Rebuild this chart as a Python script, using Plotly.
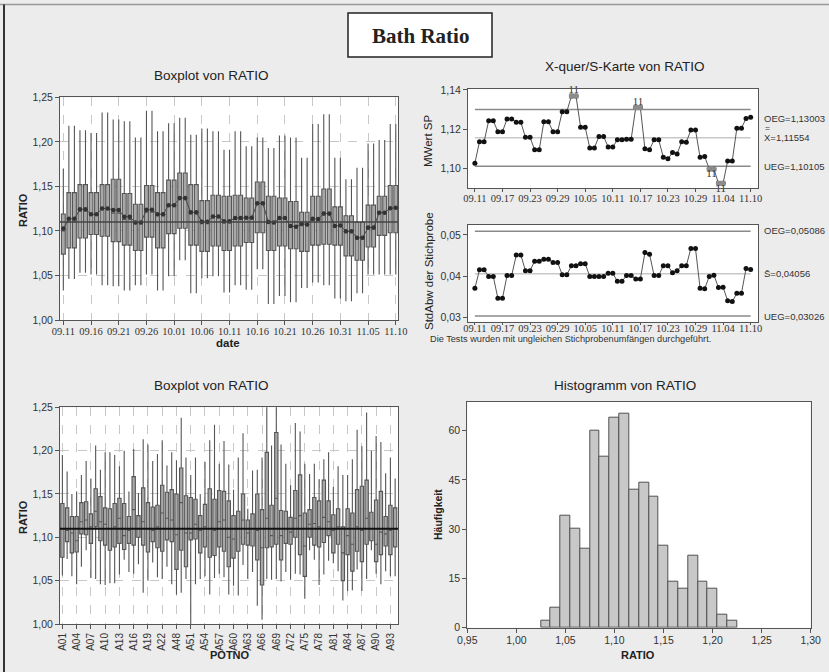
import plotly.graph_objects as go
import pandas as pd

W, H = 829, 672
def px(x): return x / W
def py(y): return 1 - y / H

# ---------------- data ----------------
dates = list(pd.date_range("2010-09-11", "2010-11-10").strftime("%m.%d"))   # 61 days
day_batch = [0] + [k for k in range(1, 31) for _ in range(2)]                # batch drawn on each day

# boxplot by date (31 batches)
tl_lo = [1.033,1.046,1.053,1.051,1.039,1.038,1.033,1.039,1.051,1.033,1.049,1.067,1.030,1.047,1.049,1.031,
         1.039,1.034,1.057,1.018,1.027,1.020,1.036,1.042,1.039,1.024,1.021,1.030,1.051,1.051,1.051]
tl_q1 = [1.074,1.081,1.092,1.096,1.094,1.088,1.084,1.078,1.093,1.081,1.097,1.103,1.084,1.077,1.083,1.078,
         1.083,1.087,1.098,1.078,1.083,1.080,1.077,1.084,1.085,1.084,1.072,1.067,1.082,1.095,1.098]
tl_med = [1.100,1.110,1.122,1.118,1.124,1.120,1.113,1.108,1.121,1.117,1.128,1.135,1.119,1.108,1.115,1.109,
          1.113,1.114,1.130,1.109,1.113,1.104,1.106,1.112,1.118,1.105,1.098,1.091,1.102,1.120,1.125]
tl_q3 = [1.119,1.143,1.152,1.143,1.152,1.158,1.142,1.130,1.151,1.143,1.157,1.165,1.152,1.134,1.140,1.139,
         1.140,1.137,1.155,1.139,1.137,1.133,1.121,1.139,1.147,1.127,1.117,1.110,1.129,1.139,1.151]
tl_hi = [1.170,1.218,1.213,1.210,1.233,1.225,1.223,1.205,1.235,1.212,1.221,1.227,1.208,1.215,1.212,1.191,
         1.212,1.195,1.205,1.193,1.207,1.205,1.182,1.220,1.231,1.182,1.158,1.171,1.198,1.202,1.220]
overall_ratio = 1.110

# X-bar / S chart (61 subgroups)
xbar = [1.1026,
        1.1136,1.1136, 1.1243,1.1243, 1.1187,1.1187, 1.1252,1.1252, 1.1235,1.1235, 1.1158,1.1158,
        1.1094,1.1094, 1.1237,1.1237, 1.1187,1.1187, 1.1289,1.1289, 1.1369,1.1369, 1.1209,1.1209,
        1.1104,1.1104, 1.1162,1.1162, 1.1109,1.1109, 1.1145,1.1145, 1.1148,1.1148, 1.1310,1.1310,
        1.1099,1.1095, 1.1145,1.1145, 1.1056,1.1048, 1.1080,1.1073, 1.1136,1.1133, 1.1196,1.1196,
        1.1056,1.1060, 1.0996,1.0996, 1.0923,1.0923, 1.1037,1.1037, 1.1205,1.1205, 1.1254,1.1260]
xbar_flag_hi = [(21, 22), (35, 36)]      # test-1 failures above OEG (pairs of subgroups)
xbar_flag_lo = [(51, 52), (53, 54)]      # test-1 failures below UEG
flag_label = "11"
xbar_oeg, xbar_center, xbar_ueg = 1.13003, 1.11554, 1.10105

sdev = [0.0370,
        0.0415,0.0415, 0.0399,0.0399, 0.0346,0.0346, 0.0401,0.0401, 0.0451,0.0451, 0.0413,0.0413,
        0.0436,0.0436, 0.0441,0.0441, 0.0433,0.0433, 0.0403,0.0403, 0.0425,0.0425, 0.0430,0.0430,
        0.0399,0.0399, 0.0399,0.0399, 0.0407,0.0407, 0.0387,0.0387, 0.0401,0.0401, 0.0393,0.0393,
        0.0457,0.0453, 0.0401,0.0401, 0.0425,0.0425, 0.0408,0.0413, 0.0425,0.0425, 0.0467,0.0467,
        0.0370,0.0369, 0.0399,0.0402, 0.0372,0.0373, 0.0340,0.0338, 0.0358,0.0358, 0.0418,0.0416]
s_oeg, s_center, s_ueg = 0.05086, 0.04056, 0.03026

# boxplot by POTNO (71 pots)
pots = [f"A{n:02d}" for n in list(range(1, 25)) + list(range(48, 95))]
bl_lo = [1.056,1.075,1.055,1.046,1.066,1.085,1.053,1.052,1.046,1.045,
         1.047,1.047,1.057,1.074,1.060,1.058,1.069,1.036,1.050,1.071,
         1.054,1.052,1.066,1.046,1.034,1.036,1.052,1.000,1.046,1.052,
         1.055,1.034,1.053,1.058,1.054,1.034,1.044,1.033,1.068,1.052,
         1.060,1.021,1.005,1.052,1.051,1.052,1.049,1.060,1.051,1.058,
         1.057,1.029,1.085,1.074,1.045,1.057,1.073,1.070,1.061,1.027,
         1.038,1.039,1.063,1.038,1.052,1.085,1.058,1.046,1.061,1.055,1.055]
bl_q1 = [1.077,1.095,1.082,1.083,1.104,1.103,1.093,1.112,1.096,1.091,
         1.085,1.089,1.093,1.086,1.093,1.091,1.100,1.091,1.083,1.095,
         1.088,1.084,1.097,1.095,1.063,1.085,1.066,1.097,1.098,1.082,
         1.089,1.077,1.079,1.089,1.084,1.066,1.076,1.084,1.092,1.091,
         1.090,1.074,1.045,1.088,1.089,1.092,1.074,1.093,1.092,1.100,
         1.080,1.055,1.100,1.091,1.089,1.094,1.102,1.082,1.092,1.050,
         1.080,1.061,1.084,1.072,1.092,1.096,1.072,1.080,1.090,1.080,1.089]
bl_med = [1.110,1.108,1.105,1.096,1.118,1.120,1.112,1.130,1.118,1.115,
          1.110,1.112,1.122,1.102,1.108,1.132,1.110,1.118,1.110,1.108,
          1.112,1.128,1.122,1.120,1.103,1.140,1.105,1.105,1.115,1.108,
          1.112,1.110,1.108,1.118,1.120,1.100,1.098,1.110,1.120,1.105,
          1.110,1.108,1.088,1.122,1.102,1.145,1.102,1.110,1.106,1.122,
          1.125,1.090,1.115,1.116,1.112,1.123,1.118,1.108,1.112,1.082,
          1.102,1.092,1.112,1.108,1.122,1.110,1.092,1.106,1.104,1.108,1.110]
bl_q3 = [1.139,1.134,1.124,1.124,1.140,1.141,1.127,1.156,1.147,1.134,
         1.133,1.139,1.145,1.139,1.124,1.170,1.125,1.157,1.140,1.135,
         1.137,1.160,1.152,1.155,1.150,1.180,1.148,1.146,1.144,1.125,
         1.138,1.156,1.144,1.154,1.153,1.142,1.125,1.130,1.150,1.120,
         1.127,1.150,1.132,1.198,1.137,1.221,1.131,1.130,1.123,1.154,
         1.172,1.128,1.132,1.146,1.142,1.166,1.142,1.126,1.133,1.112,
         1.133,1.128,1.155,1.159,1.166,1.129,1.143,1.153,1.124,1.137,1.134]
bl_hi = [1.195,1.176,1.150,1.153,1.172,1.188,1.168,1.206,1.178,1.198,
         1.198,1.195,1.182,1.200,1.153,1.202,1.151,1.213,1.207,1.188,
         1.196,1.212,1.183,1.198,1.189,1.238,1.192,1.172,1.192,1.150,
         1.187,1.212,1.230,1.185,1.211,1.184,1.155,1.192,1.220,1.133,
         1.177,1.178,1.192,1.270,1.206,1.270,1.207,1.185,1.160,1.232,
         1.222,1.185,1.173,1.185,1.167,1.190,1.198,1.158,1.182,1.172,
         1.172,1.190,1.224,1.205,1.244,1.200,1.217,1.210,1.174,1.192,1.168]

# histogram
hist_centers = [1.03,1.04,1.05,1.06,1.07,1.08,1.09,1.10,1.11,1.12,1.13,1.14,1.15,1.16,1.17,1.18,1.19,1.20,1.21,1.22]
hist_counts  = [2, 6, 34, 30, 24, 60, 52, 64, 65, 42, 44, 40, 25, 14, 12, 22, 14, 12, 4, 2]
hist_bin_width = 0.01

# ---------------- figure ----------------
fig = go.Figure()
days = list(range(len(dates)))
BOXFILL, BOXLINE = "#a8a8a8", "#555555"

fig.add_trace(go.Box(
    x=days, q1=[tl_q1[b] for b in day_batch], median=[tl_med[b] for b in day_batch],
    q3=[tl_q3[b] for b in day_batch], lowerfence=[tl_lo[b] for b in day_batch],
    upperfence=[tl_hi[b] for b in day_batch], width=0.7, whiskerwidth=0,
    fillcolor=BOXFILL, line=dict(color=BOXLINE, width=1.1), boxpoints=False,
    showlegend=False, hoverinfo="skip", xaxis="x", yaxis="y"))
fig.add_trace(go.Scatter(x=days, y=xbar, mode="lines+markers",
    line=dict(color="#4a4a4a", width=1), marker=dict(size=4.5, color="#333333"),
    showlegend=False, hoverinfo="skip", xaxis="x", yaxis="y"))

# X-bar chart
for val, col in [(xbar_oeg, "#8a8a8a"), (xbar_center, "#c8c8c8"), (xbar_ueg, "#8a8a8a")]:
    fig.add_trace(go.Scatter(x=[days[0], days[-1]], y=[val, val], mode="lines",
        line=dict(color=col, width=1.5), showlegend=False, hoverinfo="skip", xaxis="x2", yaxis="y2"))
fig.add_trace(go.Scatter(x=days, y=xbar, mode="lines+markers",
    line=dict(color="#555555", width=1), marker=dict(size=5, color="#111111"),
    showlegend=False, hoverinfo="skip", xaxis="x2", yaxis="y2"))
flag_idx = [i for pair in xbar_flag_hi + xbar_flag_lo for i in pair]
fig.add_trace(go.Scatter(x=flag_idx, y=[xbar[i] for i in flag_idx], mode="markers",
    marker=dict(size=5, color="#8c8c8c", symbol="square"),
    showlegend=False, hoverinfo="skip", xaxis="x2", yaxis="y2"))
for pairs, pos, pick in [(xbar_flag_hi, "top center", max), (xbar_flag_lo, "bottom center", min)]:
    fig.add_trace(go.Scatter(
        x=[(a + b) / 2 for a, b in pairs], y=[pick(xbar[a], xbar[b]) for a, b in pairs],
        mode="text", text=[flag_label] * len(pairs), textposition=pos, cliponaxis=False,
        textfont=dict(family="Liberation Serif", size=11, color="#333"),
        showlegend=False, hoverinfo="skip", xaxis="x2", yaxis="y2"))

# S chart
for val, col in [(s_oeg, "#8a8a8a"), (s_center, "#c8c8c8"), (s_ueg, "#8a8a8a")]:
    fig.add_trace(go.Scatter(x=[days[0], days[-1]], y=[val, val], mode="lines",
        line=dict(color=col, width=1.5), showlegend=False, hoverinfo="skip", xaxis="x3", yaxis="y3"))
fig.add_trace(go.Scatter(x=days, y=sdev, mode="lines+markers",
    line=dict(color="#555555", width=1), marker=dict(size=5, color="#111111"),
    showlegend=False, hoverinfo="skip", xaxis="x3", yaxis="y3"))

# boxplot by POTNO
pidx = list(range(len(pots)))
fig.add_trace(go.Box(
    x=pidx, q1=bl_q1, median=bl_med, q3=bl_q3, lowerfence=bl_lo, upperfence=bl_hi,
    width=0.7, whiskerwidth=0, fillcolor=BOXFILL, line=dict(color=BOXLINE, width=1.1),
    boxpoints=False, showlegend=False, hoverinfo="skip", xaxis="x4", yaxis="y4"))

# histogram
fig.add_trace(go.Bar(x=hist_centers, y=hist_counts, width=hist_bin_width,
    marker=dict(color="#c8c8c8", line=dict(color="#505050", width=1)),
    showlegend=False, hoverinfo="skip", xaxis="x5", yaxis="y5"))

SANS = "Liberation Sans"
SERIF = "Liberation Serif"
base = dict(showline=True, linecolor="#555555", linewidth=1, mirror=True, ticks="outside",
            ticklen=4, tickcolor="#555555", zeroline=False, showgrid=False, automargin=False,
            tickfont=dict(family=SANS, size=10.5, color="#333333"))
grid = dict(showgrid=True, gridcolor="#c8c8c8", griddash="dash", gridwidth=1)
datefont = dict(family=SERIF, size=10.5, color="#333")

fig.update_layout(
    template="none",
    width=W, height=H, autosize=False, margin=dict(l=0, r=0, t=0, b=0, autoexpand=False),
    paper_bgcolor="#ececec", plot_bgcolor="#ffffff", separators=",.",
    xaxis=dict(base, **grid, domain=[px(60), px(398)], anchor="y", range=[-0.6, 60.4],
               tickvals=days[::5], ticktext=dates[::5], tickangle=0, ticklabelstandoff=-3,
               tickfont=datefont),
    yaxis=dict(base, **grid, domain=[py(320), py(97.3)], anchor="x", range=[1.0, 1.25],
               dtick=0.05, tickformat=".2f"),
    xaxis2=dict(base, domain=[px(468), px(758)], anchor="y2", range=[-1.5, 61.6],
                tickvals=days[::6], ticktext=dates[::6], tickangle=0, ticklen=3,
                ticklabelstandoff=-3, tickfont=datefont),
    yaxis2=dict(base, domain=[py(188), py(89)], anchor="x2", range=[1.0899, 1.1405],
                tickvals=[1.10, 1.12, 1.14], tickformat=".2f"),
    xaxis3=dict(base, domain=[px(468), px(758)], anchor="y3", range=[-1.5, 61.6],
                tickvals=days[::6], ticktext=dates[::6], tickangle=0, ticklen=2,
                ticklabelstandoff=-5, tickfont=datefont),
    yaxis3=dict(base, domain=[py(321.7), py(225)], anchor="x3", range=[0.0289, 0.0524],
                tickvals=[0.03, 0.04, 0.05], tickformat=".2f"),
    xaxis4=dict(base, **grid, domain=[px(60), px(398)], anchor="y4", range=[-0.5, 70.6],
                tickvals=pidx[::3], ticktext=pots[::3], tickangle=-90,
                tickfont=dict(family=SANS, size=10, color="#333")),
    yaxis4=dict(base, **grid, domain=[py(624), py(407.3)], anchor="x4", range=[1.0, 1.25],
                dtick=0.05, tickformat=".2f"),
    xaxis5=dict(base, domain=[px(467.3), px(810.7)], anchor="y5", range=[0.95, 1.30],
                dtick=0.05, tickformat=".2f", tickangle=0, ticklabelstandoff=-1),
    yaxis5=dict(base, domain=[py(627.7), py(401.7)], anchor="x5", range=[0, 68.8],
                tickvals=[0, 15, 30, 45, 60]),
    bargap=0,
)

shapes = [
    dict(type="line", xref="paper", yref="paper", x0=0, x1=1, y0=py(4.5), y1=py(4.5),
         line=dict(color="#999999", width=1.5)),
    dict(type="line", xref="paper", yref="paper", x0=px(4), x1=px(4), y0=py(4.5), y1=0,
         line=dict(color="#333333", width=2)),
    dict(type="rect", xref="paper", yref="paper", x0=px(348), x1=px(492), y0=py(57), y1=py(13),
         fillcolor="#ffffff", line=dict(color="#222222", width=1.5)),
    dict(type="line", xref="x domain", yref="y", x0=0, x1=1, y0=overall_ratio, y1=overall_ratio,
         line=dict(color="#444444", width=1.5)),
    dict(type="line", xref="x4 domain", yref="y4", x0=0, x1=1, y0=overall_ratio, y1=overall_ratio,
         line=dict(color="#111111", width=2)),
]
fig.update_layout(shapes=shapes)

def ann(text, x, y, size=11, bold=False, family=SANS, angle=0, xanchor="center", color="#222222"):
    t = f"<b>{text}</b>" if bold else text
    fig.add_annotation(text=t, xref="paper", yref="paper", x=px(x), y=py(y), showarrow=False,
                       xanchor=xanchor, yanchor="middle", textangle=angle,
                       font=dict(family=family, size=size, color=color))

ann("Bath Ratio", 420, 36, size=21, bold=True, family=SERIF, color="#222")
ann("Boxplot von RATIO", 211, 75, size=13.5)
ann("RATIO", 23, 210, size=11, bold=True, angle=-90)
ann("date", 228, 343, size=11.5, bold=True)
ann("X-quer/S-Karte von RATIO", 625, 67, size=13.5)
ann("MWert SP", 428, 141, size=11.5, angle=-90)
ann("OEG=1,13003", 762, 118, size=9.5, xanchor="left", color="#333")
ann("=", 763, 128, size=8.5, xanchor="left", color="#333")
ann("X=1,11554", 762, 137, size=9.5, xanchor="left", color="#333")
ann("UEG=1,10105", 762, 166, size=9.5, xanchor="left", color="#333")
ann("StdAbw der Stichprobe", 429, 271, size=11.5, angle=-90)
ann("OEG=0,05086", 762, 230, size=9.5, xanchor="left", color="#333")
ann("S\u0304=0,04056", 762, 273, size=9.5, xanchor="left", color="#333")
ann("UEG=0,03026", 762, 316, size=9.5, xanchor="left", color="#333")
ann("Die Tests wurden mit ungleichen Stichprobenumfängen durchgeführt.", 428, 339, size=9.2,
    xanchor="left", color="#333")
ann("Boxplot von RATIO", 211, 385, size=13.5)
ann("RATIO", 23, 517, size=11, bold=True, angle=-90)
ann("POTNO", 230, 655, size=11, bold=True)
ann("Histogramm von RATIO", 625, 385, size=13.5)
ann("Häufigkeit", 438, 515, size=10.5, bold=True, angle=-90)
ann("RATIO", 638, 655, size=11, bold=True)

fig.write_html("out.html", config={"displayModeBar": False},
               post_script="document.body.style.margin='0';document.body.style.overflow='hidden';")
